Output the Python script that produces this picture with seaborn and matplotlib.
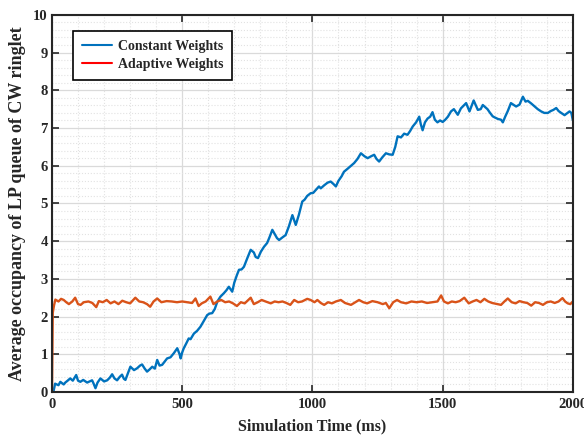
import numpy as np
import pandas as pd
import matplotlib
matplotlib.use("Agg")
import matplotlib.pyplot as plt
from matplotlib.lines import Line2D
from matplotlib.ticker import MultipleLocator
import seaborn as sns

# values (time in ms, occupancy), 10 per row
const_t = [0, 6, 12, 25, 32, 45, 51, 60, 70, 80,
           93, 100, 109, 120, 135, 154, 160, 167, 175, 186,
           200, 212, 222, 231, 240, 250, 260, 269, 276, 282,
           292, 301, 315, 327, 338, 346, 356, 365, 375, 385,
           395, 404, 413, 423, 432, 442, 455, 468, 481, 490,
           494, 500, 506, 515, 525, 532, 545, 557, 570, 580,
           596, 605, 615, 625, 635, 647, 660, 670, 679, 692,
           700, 710, 718, 728, 737, 750, 763, 775, 782, 791,
           802, 814, 826, 835, 846, 856, 864, 872, 885, 897,
           910, 923, 930, 936, 948, 961, 970, 980, 993, 1003,
           1012, 1025, 1032, 1045, 1058, 1070, 1080, 1090, 1100, 1112,
           1121, 1135, 1148, 1160, 1173, 1186, 1200, 1212, 1225, 1237,
           1246, 1256, 1268, 1282, 1295, 1308, 1318, 1327, 1340, 1352,
           1365, 1375, 1385, 1398, 1410, 1416, 1423, 1432, 1442, 1452,
           1461, 1470, 1480, 1490, 1500, 1510, 1520, 1532, 1543, 1558,
           1570, 1590, 1603, 1619, 1635, 1646, 1654, 1672, 1680, 1692,
           1700, 1712, 1724, 1731, 1740, 1750, 1762, 1782, 1795, 1808,
           1818, 1827, 1840, 1853, 1865, 1878, 1890, 1904, 1915, 1925,
           1936, 1945, 1955, 1968, 1987, 1994, 2000]
const_v = [0.00, 0.02, 0.22, 0.18, 0.27, 0.20, 0.25, 0.30, 0.36, 0.30,
           0.45, 0.30, 0.27, 0.32, 0.25, 0.31, 0.22, 0.10, 0.25, 0.36,
           0.28, 0.31, 0.38, 0.47, 0.36, 0.31, 0.40, 0.46, 0.35, 0.32,
           0.50, 0.67, 0.58, 0.63, 0.70, 0.73, 0.62, 0.54, 0.60, 0.67,
           0.62, 0.85, 0.70, 0.72, 0.80, 0.89, 0.92, 1.03, 1.16, 1.00,
           0.89, 1.05, 1.16, 1.28, 1.42, 1.40, 1.55, 1.62, 1.73, 1.85,
           2.04, 2.08, 2.09, 2.20, 2.40, 2.53, 2.62, 2.70, 2.79, 2.66,
           2.90, 3.10, 3.24, 3.25, 3.32, 3.55, 3.77, 3.70, 3.58, 3.55,
           3.72, 3.85, 3.95, 4.10, 4.30, 4.18, 4.08, 4.03, 4.10, 4.16,
           4.40, 4.69, 4.55, 4.43, 4.70, 5.05, 5.10, 5.20, 5.27, 5.28,
           5.35, 5.45, 5.40, 5.48, 5.55, 5.58, 5.52, 5.45, 5.60, 5.72,
           5.84, 5.92, 6.00, 6.07, 6.18, 6.33, 6.25, 6.20, 6.25, 6.29,
           6.18, 6.11, 6.22, 6.33, 6.30, 6.29, 6.50, 6.78, 6.75, 6.85,
           6.82, 6.92, 7.04, 7.15, 7.30, 7.10, 6.94, 7.15, 7.25, 7.30,
           7.42, 7.22, 7.15, 7.20, 7.16, 7.22, 7.30, 7.44, 7.50, 7.35,
           7.52, 7.66, 7.44, 7.73, 7.48, 7.50, 7.61, 7.50, 7.42, 7.31,
           7.28, 7.24, 7.22, 7.15, 7.30, 7.45, 7.66, 7.57, 7.62, 7.83,
           7.70, 7.72, 7.65, 7.57, 7.50, 7.44, 7.40, 7.40, 7.45, 7.48,
           7.53, 7.45, 7.40, 7.34, 7.44, 7.40, 7.20]

adapt_t = [0, 3, 8, 13, 25, 35, 45, 55, 65, 78,
           89, 100, 110, 122, 140, 155, 170, 180, 195, 210,
           225, 240, 255, 270, 285, 300, 320, 335, 350, 365,
           377, 390, 404, 420, 440, 460, 480, 500, 520, 538,
           551, 563, 575, 590, 608, 620, 635, 650, 665, 680,
           695, 710, 725, 740, 763, 775, 790, 805, 820, 840,
           855, 870, 885, 900, 915, 930, 945, 960, 980, 993,
           1008, 1019, 1032, 1045, 1060, 1075, 1090, 1109, 1125, 1148,
           1165, 1179, 1195, 1210, 1230, 1250, 1270, 1282, 1295, 1310,
           1325, 1340, 1360, 1380, 1400, 1420, 1440, 1460, 1480, 1494,
           1505, 1520, 1535, 1550, 1565, 1583, 1600, 1615, 1630, 1645,
           1660, 1675, 1690, 1710, 1724, 1737, 1750, 1765, 1780, 1795,
           1810, 1825, 1840, 1855, 1870, 1885, 1900, 1915, 1930, 1945,
           1960, 1970, 1980, 1990, 2000]
adapt_v = [0.00, 2.10, 2.30, 2.45, 2.40, 2.47, 2.44, 2.38, 2.33, 2.40,
           2.50, 2.33, 2.31, 2.38, 2.40, 2.36, 2.25, 2.41, 2.38, 2.44,
           2.35, 2.40, 2.33, 2.42, 2.38, 2.35, 2.50, 2.40, 2.38, 2.33,
           2.26, 2.40, 2.48, 2.38, 2.41, 2.40, 2.38, 2.40, 2.38, 2.36,
           2.48, 2.28, 2.35, 2.40, 2.53, 2.33, 2.40, 2.44, 2.38, 2.40,
           2.35, 2.28, 2.38, 2.35, 2.50, 2.33, 2.38, 2.44, 2.40, 2.35,
           2.40, 2.38, 2.40, 2.36, 2.31, 2.44, 2.38, 2.40, 2.47, 2.44,
           2.38, 2.44, 2.36, 2.31, 2.38, 2.35, 2.40, 2.44, 2.36, 2.31,
           2.38, 2.44, 2.38, 2.35, 2.41, 2.38, 2.33, 2.36, 2.22, 2.38,
           2.44, 2.38, 2.35, 2.40, 2.38, 2.40, 2.36, 2.38, 2.40, 2.56,
           2.40, 2.35, 2.40, 2.38, 2.41, 2.50, 2.35, 2.40, 2.44, 2.38,
           2.47, 2.40, 2.36, 2.33, 2.31, 2.40, 2.48, 2.38, 2.35, 2.41,
           2.38, 2.36, 2.29, 2.38, 2.36, 2.31, 2.38, 2.40, 2.36, 2.40,
           2.49, 2.40, 2.35, 2.33, 2.40]

labels = ["Constant Weights", "Adaptive Weights"]
blue = "#0072BD"
orange = "#D95319"

sns.set_theme(style="ticks")
plt.rcParams['font.family'] = ['Liberation Serif', 'DejaVu Serif']
plt.rcParams['font.weight'] = 'bold'
plt.rcParams['axes.labelweight'] = 'bold'

fig = plt.figure(figsize=(5.84, 4.37), dpi=100)
ax = fig.add_axes([0.089, 0.103, 0.892, 0.863])

sns.lineplot(x=const_t, y=const_v, ax=ax, color=blue, linewidth=1.7, sort=False)
sns.lineplot(x=adapt_t, y=adapt_v, ax=ax, color=orange, linewidth=1.7, sort=False)

ax.set_xlim(0, 2000)
ax.set_ylim(0, 10)
ax.xaxis.set_major_locator(MultipleLocator(500))
ax.yaxis.set_major_locator(MultipleLocator(1))
ax.xaxis.set_minor_locator(MultipleLocator(100))
ax.yaxis.set_minor_locator(MultipleLocator(0.2))

ax.grid(which='major', color='#dadada', linestyle='-', linewidth=0.9)
ax.grid(which='minor', color='#e2e2e2', linestyle=':', linewidth=0.8)
ax.set_axisbelow(True)

ax.tick_params(which='major', direction='in', length=5, width=1.2, top=True, right=True,
               labelsize=10.5, colors='#262626', pad=4)
ax.tick_params(axis='y', which='major', pad=3)
ax.tick_params(which='minor', length=0)
for lab in ax.get_xticklabels() + ax.get_yticklabels():
    lab.set_fontweight('bold')
for sp in ax.spines.values():
    sp.set_visible(True)
    sp.set_color('#262626')
    sp.set_linewidth(1.5)

ax.set_xlabel("Simulation Time (ms)", fontsize=11.5, fontweight='bold', color='#262626', labelpad=6)
ax.set_ylabel("Average occupancy of LP queue of CW ringlet", fontsize=13, fontweight='bold',
              color='#262626', labelpad=5)

handles = [Line2D([], [], color=blue, linewidth=1.5), Line2D([], [], color='#ff0000', linewidth=1.5)]
leg = ax.legend(handles, labels, loc='upper left', bbox_to_anchor=(0.041, 0.958), borderaxespad=0,
                fancybox=False, framealpha=1, edgecolor='black', handlelength=2.1,
                handletextpad=0.45, labelspacing=0.38, borderpad=0.65,
                prop={'weight': 'bold', 'size': 10})
leg.get_frame().set_linewidth(1.2)

fig.savefig("out.png", dpi=100)
